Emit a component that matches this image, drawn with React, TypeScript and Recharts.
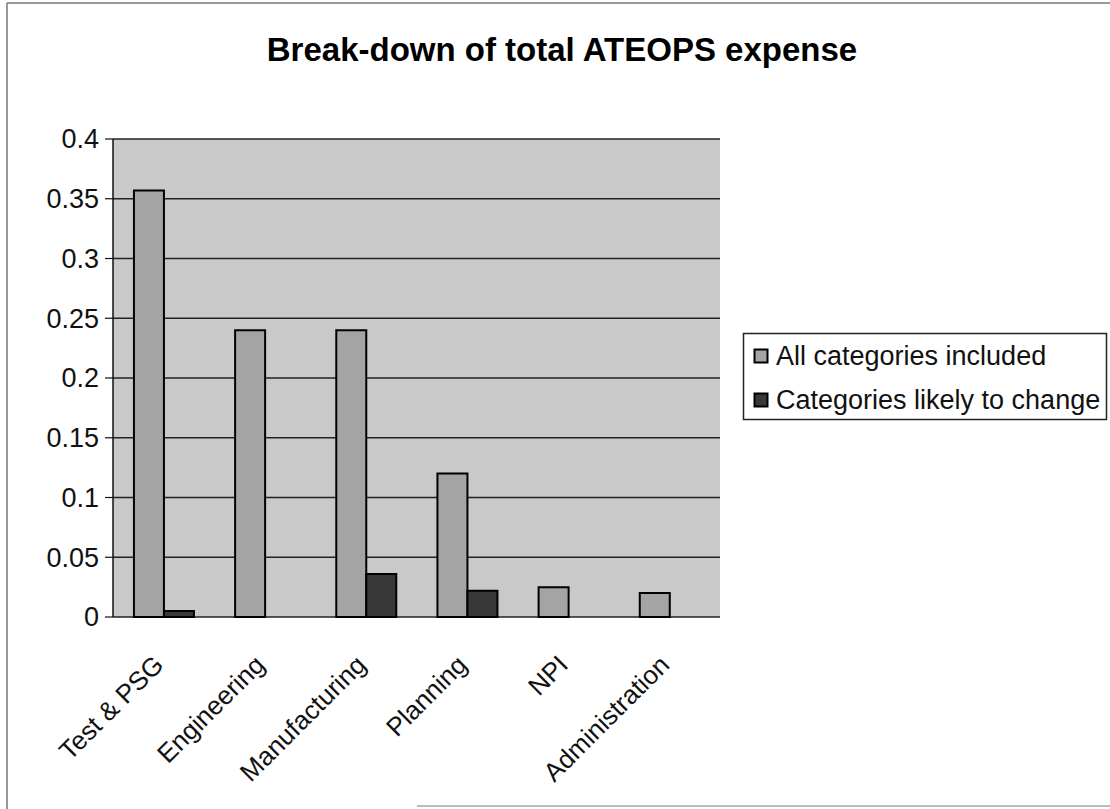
import React from 'react';
import { BarChart, Bar, XAxis, YAxis, CartesianGrid } from 'recharts';

const categories = ['Test & PSG', 'Engineering', 'Manufacturing', 'Planning', 'NPI', 'Administration'];
const allCategoriesIncluded = [0.357, 0.24, 0.24, 0.12, 0.025, 0.02];
const categoriesLikelyToChange = [0.005, 0, 0.036, 0.022, 0, 0];
const yTicks = [0, 0.05, 0.1, 0.15, 0.2, 0.25, 0.3, 0.35, 0.4];
const boundaryTicks = [0, 1, 2, 3, 4, 5, 6];
const seriesNames = ['All categories included', 'Categories likely to change'];
const title = 'Break-down of total ATEOPS expense';

const COLOR_ALL = '#a4a4a4';
const COLOR_LIKELY = '#383838';
const PLOT_BG = '#c9c9c9';
const FONT = 'Arial, "Liberation Sans", sans-serif';

const data = categories.map((c, i) => ({
  name: c,
  all: allCategoriesIncluded[i],
  likely: categoriesLikelyToChange[i],
}));

const YTick = (props: any) => {
  const { x, y, payload } = props;
  return (
    <text
      x={x}
      y={y}
      textAnchor="end"
      dy="0.35em"
      fontSize={27}
      fontFamily={FONT}
      fill="#111"
    >
      {String(payload.value)}
    </text>
  );
};

const XTick = (props: any) => {
  const { x, y, payload } = props;
  return (
    <text
      transform={`translate(${x - 5},${y + 43}) rotate(-45)`}
      textAnchor="end"
      dy="0.35em"
      fontSize={26}
      fontFamily={FONT}
      fill="#111"
    >
      {payload.value}
    </text>
  );
};

export default function App() {
  return (
    <div style={{ position: 'absolute', left: 0, top: 0, width: 1110, height: 809, background: '#fff', overflow: 'hidden' }}>
      <BarChart
        width={1110}
        height={809}
        data={data}
        margin={{ top: 139, right: 390, left: 0, bottom: 42 }}
        barCategoryGap="20.7%"
        barGap={0}
      >
        <CartesianGrid
          xAxisId="cat"
          yAxisId="left"
          vertical={false}
          stroke="#222"
          strokeWidth={1.3}
          fill={PLOT_BG}
          fillOpacity={1}
        />
        <XAxis
          xAxisId="grid"
          type="number"
          domain={[0, 6]}
          ticks={boundaryTicks}
          height={0}
          tickSize={9}
          tick={false}
          axisLine={{ stroke: '#111', strokeWidth: 1.5 }}
          tickLine={{ stroke: '#111', strokeWidth: 1.2 }}
          allowDataOverflow
        />
        <XAxis
          xAxisId="cat"
          dataKey="name"
          height={150}
          tickSize={0}
          tickMargin={0}
          axisLine={false}
          tickLine={false}
          interval={0}
          tick={<XTick />}
        />
        <YAxis
          yAxisId="left"
          width={113}
          domain={[0, 0.4]}
          ticks={yTicks}
          tickSize={8}
          tickMargin={6}
          axisLine={{ stroke: '#111', strokeWidth: 1.5 }}
          tickLine={{ stroke: '#111', strokeWidth: 1.2 }}
          tick={<YTick />}
          interval={0}
        />
        <YAxis
          yAxisId="right"
          orientation="right"
          width={0}
          domain={[0, 0.4]}
          tick={false}
          tickLine={false}
          axisLine={{ stroke: '#777', strokeWidth: 1 }}
        />
        <Bar
          xAxisId="cat"
          yAxisId="left"
          dataKey="all"
          name={seriesNames[0]}
          fill={COLOR_ALL}
          stroke="#000"
          strokeWidth={2}
          isAnimationActive={false}
        />
        <Bar
          xAxisId="cat"
          yAxisId="left"
          dataKey="likely"
          name={seriesNames[1]}
          fill={COLOR_LIKELY}
          stroke="#000"
          strokeWidth={2}
          isAnimationActive={false}
        />
      </BarChart>
      <svg
        width={1110}
        height={809}
        style={{ position: 'absolute', left: 0, top: 0, pointerEvents: 'none' }}
      >
        <line x1={7} y1={3} x2={7} y2={809} stroke="#777" strokeWidth={1.5} />
        <line x1={7} y1={3} x2={1110} y2={3} stroke="#777" strokeWidth={1.5} />
        <line x1={417} y1={806} x2={1110} y2={806} stroke="#bbb" strokeWidth={2} />
        <text
          x={562}
          y={61}
          textAnchor="middle"
          fontSize={33}
          fontWeight="bold"
          fontFamily={FONT}
          fill="#000"
        >
          {title}
        </text>
        <rect x={743.5} y={333.5} width={363} height={86} fill="#fff" stroke="#222" strokeWidth={1.5} />
        {seriesNames.map((n, i) => (
          <g key={n}>
            <rect
              x={754.5}
              y={349.5 + i * 44}
              width={13}
              height={13}
              fill={i === 0 ? COLOR_ALL : COLOR_LIKELY}
              stroke="#000"
              strokeWidth={2}
            />
            <text
              x={776}
              y={365 + i * 44}
              fontSize={27}
              fontFamily={FONT}
              fill="#111"
            >
              {n}
            </text>
          </g>
        ))}
      </svg>
    </div>
  );
}
